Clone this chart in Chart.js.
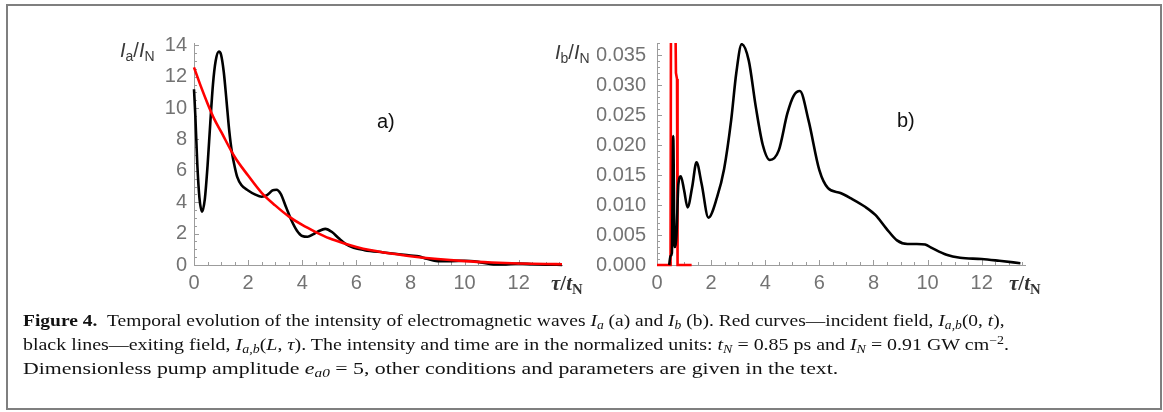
<!DOCTYPE html>
<html>
<head>
<meta charset="utf-8">
<script src="https://cdn.jsdelivr.net/npm/chart.js@4.4.1/dist/chart.umd.min.js"></script>
<style>
  body { margin:0; background:#fff; }
  #page { position:relative; width:1163px; height:412px; overflow:hidden; background:#fff; }
  #frame { position:absolute; left:6px; top:4px; width:1156px; height:406px; box-sizing:border-box; border:2px solid #7f7f7f; }
  .box { position:absolute; top:20px; height:290px; }
  .lbl { position:absolute; font-family:"Liberation Sans", Arial, sans-serif; color:#3a3a3a; font-size:20px; white-space:nowrap; line-height:1; }
  .lbl sub { font-size:70%; vertical-align:-0.3em; line-height:0; }
  .tau { font-family:"Liberation Serif", serif; font-size:21px; font-weight:bold; color:#333; }
  #cap { position:absolute; left:23px; top:309px; font-family:"Liberation Serif", serif; font-size:17px; color:#111; white-space:nowrap; }
  #cap div { height:24px; line-height:24px; transform-origin:left center; width:max-content; }
  #cap sub { font-size:70%; vertical-align:-0.25em; line-height:0; }
  #cap sup { font-size:70%; vertical-align:0.5em; line-height:0; }
</style>
</head>
<body>
<div id="page">
  <div id="frame"></div>
  <div class="box" style="left:100px;width:490px"><canvas id="chartA" width="490" height="290"></canvas></div>
  <div class="box" style="left:590px;width:470px"><canvas id="chartB" width="470" height="290"></canvas></div>

  <div class="lbl" style="left:120px;top:40px"><i>I</i><sub>a</sub>/<i>I</i><sub>N</sub></div>
  <div class="lbl" style="left:555px;top:42px"><i>I</i><sub>b</sub>/<i>I</i><sub>N</sub></div>
  <div class="lbl tau" style="left:551px;top:273px"><i>τ</i>/<i>t</i><sub>N</sub></div>
  <div class="lbl tau" style="left:1009px;top:273px"><i>τ</i>/<i>t</i><sub>N</sub></div>
  <div class="lbl" style="left:377px;top:111px;color:#111">a)</div>
  <div class="lbl" style="left:897px;top:110px;color:#111">b)</div>

  <div id="cap">
    <div data-w="982"><b>Figure 4.</b>&nbsp;&nbsp;Temporal evolution of the intensity of electromagnetic waves <i>I<sub>a</sub></i> (a) and <i>I<sub>b</sub></i> (b). Red curves—incident field, <i>I<sub>a,b</sub></i>(0, <i>t</i>),</div>
    <div data-w="986">black lines—exiting field, <i>I<sub>a,b</sub></i>(<i>L</i>, <i>τ</i>). The intensity and time are in the normalized units: <i>t<sub>N</sub></i> = 0.85 ps and <i>I<sub>N</sub></i> = 0.91 GW cm<sup>−2</sup>.</div>
    <div data-w="815">Dimensionless pump amplitude <i>e<sub>a0</sub></i> = 5, other conditions and parameters are given in the text.</div>
  </div>
</div>
<script>
// tick labels
const xTicks = [0, 2, 4, 6, 8, 10, 12];
const yTicksA = [0, 2, 4, 6, 8, 10, 12, 14];
const yTicksB = [0, 0.005, 0.01, 0.015, 0.02, 0.025, 0.03, 0.035];

// panel a) exiting field (black)
const tauA = [0, 0.05, 0.12, 0.2, 0.3, 0.4, 0.5, 0.6, 0.7, 0.8, 0.92, 1.0, 1.1, 1.2, 1.3, 1.4, 1.5, 1.6, 1.75, 2.0, 2.25, 2.5, 2.7, 2.9, 3.05, 3.2, 3.4, 3.6, 3.8, 4.0, 4.2, 4.4, 4.6, 4.85, 5.1, 5.35, 5.6, 5.9, 6.3, 7.0, 7.5, 8.0, 8.3, 8.6, 9.0, 9.5, 10.0, 10.5, 11.0, 11.4, 12.0, 12.5, 13.0, 13.6];
const outA = [11.2, 9.5, 6.5, 4.3, 3.4, 4.2, 6.3, 9.0, 11.5, 13.0, 13.6, 13.4, 12.3, 10.5, 8.6, 7.2, 6.3, 5.6, 5.1, 4.75, 4.5, 4.35, 4.45, 4.75, 4.8, 4.55, 3.7, 2.85, 2.2, 1.85, 1.8, 1.95, 2.15, 2.3, 2.1, 1.7, 1.35, 1.1, 0.95, 0.8, 0.7, 0.6, 0.55, 0.4, 0.25, 0.25, 0.27, 0.2, 0.05, 0.03, 0.1, 0.05, 0.02, 0.01];

// panel a) incident field (red)
const tauInA = [0, 0.25, 0.5, 0.75, 1, 1.5, 2, 2.5, 3, 3.5, 4, 4.5, 5, 5.5, 6, 6.5, 7, 7.5, 8, 9, 10, 11, 12, 13, 13.6];
const inA = [12.6, 11.4, 10.3, 9.3, 8.5, 6.9, 5.7, 4.6, 3.8, 3.1, 2.55, 2.1, 1.7, 1.4, 1.15, 0.95, 0.8, 0.68, 0.56, 0.38, 0.25, 0.16, 0.1, 0.06, 0.05];

// panel b) exiting field (black)
const tauB = [0.45, 0.5, 0.55, 0.6, 0.65, 0.72, 0.79, 0.88, 1.0, 1.13, 1.3, 1.46, 1.65, 1.9, 2.22, 2.48, 2.74, 2.93, 3.13, 3.39, 3.65, 3.91, 4.17, 4.5, 4.82, 5.05, 5.28, 5.6, 6.0, 6.32, 6.78, 7.17, 7.69, 8.08, 8.47, 8.87, 9.26, 9.6, 9.91, 10.17, 10.7, 11.2, 12.0, 12.65, 13.43];
const outB = [0.0, 0.0015, 0.002, 0.0215, 0.003, 0.005, 0.0135, 0.0148, 0.0125, 0.0096, 0.013, 0.0171, 0.0135, 0.0079, 0.0113, 0.016, 0.0241, 0.032, 0.0368, 0.0341, 0.0264, 0.02, 0.0175, 0.0191, 0.0253, 0.0282, 0.029, 0.0241, 0.0158, 0.0128, 0.012, 0.0111, 0.0097, 0.0083, 0.0061, 0.0041, 0.0035, 0.0035, 0.0034, 0.0028, 0.0017, 0.0012, 0.001, 0.0007, 0.0003];

// panel b) incident field (red), a spike that runs off the top
const tauInB = [0, 0.5, 0.52, 0.6, 0.66, 0.7, 0.74, 0.76, 1.28];
const inB = [0, 0, 0.05, 0.06, 0.05, 0.032, 0.031, 0, 0];

const pts = (xs, ys) => xs.map((x, i) => ({ x: x, y: ys[i] }));

// small inward ticks like the original plot
const inwardTicks = {
  id: 'inwardTicks',
  beforeDatasetsDraw(chart, args, opts) {
    const { ctx, chartArea: a, scales: { x, y } } = chart;
    ctx.save();
    ctx.strokeStyle = '#9c9c9c';
    ctx.lineWidth = 1;
    ctx.beginPath();
    for (let i = 0; i * opts.xMinor <= x.max + 1e-9; i++) {
      const v = i * opts.xMinor;
      const major = Math.abs(v / opts.xMajor - Math.round(v / opts.xMajor)) < 1e-6;
      const px = Math.round(x.getPixelForValue(v)) + 0.5;
      ctx.moveTo(px, a.bottom);
      ctx.lineTo(px, a.bottom - (major ? 5 : 3));
    }
    for (let i = 0; i * opts.yMinor <= y.max + 1e-12; i++) {
      const v = i * opts.yMinor;
      const major = Math.abs(v / opts.yMajor - Math.round(v / opts.yMajor)) < 1e-6;
      const py = Math.round(y.getPixelForValue(v)) + 0.5;
      ctx.moveTo(a.left, py);
      ctx.lineTo(a.left + (major ? 5 : 3), py);
    }
    ctx.stroke();
    ctx.restore();
  }
};

const tickFont = { family: '"Liberation Sans", Arial, sans-serif', size: 20 };

function makeChart(id, sets, yMax, yTicks, yFmt, yPad, pad, ticksOpt) {
  return new Chart(document.getElementById(id), {
    type: 'line',
    data: { datasets: sets },
    plugins: [inwardTicks],
    options: {
      responsive: false,
      animation: false,
      layout: { padding: pad },
      plugins: { legend: { display: false }, tooltip: { enabled: false }, inwardTicks: ticksOpt },
      scales: {
        x: {
          type: 'linear', min: 0, max: 13.6,
          afterBuildTicks: s => { s.ticks = xTicks.map(v => ({ value: v })); },
          afterFit: s => { s.height = 30; },
          grid: { drawOnChartArea: false, drawTicks: false },
          border: { color: '#9c9c9c', width: 1 },
          ticks: { color: '#737373', font: tickFont, padding: 6, maxRotation: 0, autoSkip: false }
        },
        y: {
          type: 'linear', min: 0, max: yMax,
          afterBuildTicks: s => { s.ticks = yTicks.map(v => ({ value: v })); },
          afterFit: s => { s.width = 60; },
          grid: { drawOnChartArea: false, drawTicks: false },
          border: { color: '#9c9c9c', width: 1 },
          ticks: { color: '#737373', font: tickFont, padding: yPad, callback: yFmt, autoSkip: false }
        }
      }
    }
  });
}

const lineStyle = (data, color, smooth) => ({
  data: data, borderColor: color, borderWidth: 2.6, pointRadius: 0,
  fill: false, tension: smooth ? 0.4 : 0, cubicInterpolationMode: smooth ? 'monotone' : 'default',
  clip: { left: 3, right: 3, top: 0, bottom: 3 }
});

makeChart('chartA', [
  lineStyle(pts(tauInA, inA), '#ff0000', true),
  lineStyle(pts(tauA, outA), '#000000', true)
], 14.15, yTicksA, v => v, 7,
  { left: 34, right: 28, top: 23, bottom: 15 },
  { xMajor: 2, xMinor: 0.5, yMajor: 2, yMinor: 0.5 });

makeChart('chartB', [
  lineStyle(pts(tauB, outB), '#000000', true),
  lineStyle(pts(tauInB, inB), '#ff0000', false)
], 0.037, yTicksB, v => v.toFixed(3), 11,
  { left: 7, right: 35, top: 23, bottom: 15 },
  { xMajor: 2, xMinor: 0.5, yMajor: 0.005, yMinor: 0.001 });

// squeeze caption lines to the widths of the condensed original face
document.querySelectorAll('#cap div').forEach(d => {
  const k = Number(d.dataset.w) / d.scrollWidth;
  d.style.transform = 'scaleX(' + k + ')';
});
</script>
</body>
</html>
